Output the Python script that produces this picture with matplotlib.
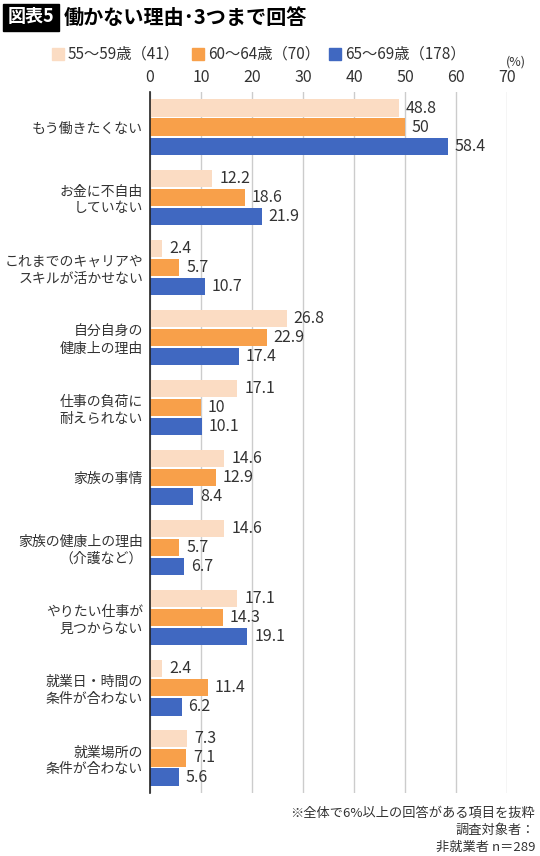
import numpy as np
import matplotlib.pyplot as plt
from matplotlib.patches import Rectangle

plt.rcParams['font.family'] = ['Noto Sans CJK JP', 'DejaVu Sans']

# Data
categories = [
    'もう働きたくない',
    'お金に不自由\nしていない',
    'これまでのキャリアや\nスキルが活かせない',
    '自分自身の\n健康上の理由',
    '仕事の負荷に\n耐えられない',
    '家族の事情',
    '家族の健康上の理由\n（介護など）',
    'やりたい仕事が\n見つからない',
    '就業日・時間の\n条件が合わない',
    '就業場所の\n条件が合わない',
]
age_55_59 = [48.8, 12.2, 2.4, 26.8, 17.1, 14.6, 14.6, 17.1, 2.4, 7.3]
age_60_64 = [50, 18.6, 5.7, 22.9, 10, 12.9, 5.7, 14.3, 11.4, 7.1]
age_65_69 = [58.4, 21.9, 10.7, 17.4, 10.1, 8.4, 6.7, 19.1, 6.2, 5.6]
series_labels = ['55〜59歳（41）', '60〜64歳（70）', '65〜69歳（178）']
colors = ['#fbdcc3', '#f8a04a', '#4068c1']

fig = plt.figure(figsize=(5.4, 8.56), dpi=100)
ax = fig.add_axes([0.2778, 0.0736, 0.6611, 0.8189])

y = np.arange(len(categories))
bar_h = 0.245
step = 0.272
text_color = '#333333'

for i, (vals, col) in enumerate(zip([age_55_59, age_60_64, age_65_69], colors)):
    pos = y + (i - 1) * step
    ax.barh(pos, vals, height=bar_h, color=col, zorder=3)
    for p, v in zip(pos, vals):
        lbl = f'{v:g}'
        ax.annotate(lbl, (v, p), xytext=(5, 0), textcoords='offset points',
                    ha='left', va='center', fontsize=11.5, color=text_color)

ax.set_xlim(0, 70)
ax.set_ylim(len(categories) - 0.5, -0.5)
ax.set_xticks(range(0, 71, 10))
ax.xaxis.tick_top()
ax.tick_params(axis='x', length=0, pad=4, labelsize=11.5, labelcolor=text_color)
ax.set_yticks(y)
ax.set_yticklabels(categories, fontsize=10, color=text_color, linespacing=1.25)
ax.tick_params(axis='y', length=0, pad=5)
ax.grid(axis='x', color='#cccccc', linewidth=1, zorder=0)
for s in ['top', 'right', 'bottom']:
    ax.spines[s].set_visible(False)
ax.spines['left'].set_color('#222222')
ax.spines['left'].set_linewidth(1.2)
ax.spines['left'].set_zorder(4)

# (%) unit
fig.text(516 / 540, 1 - 62 / 856, '(%)', ha='center', va='center', fontsize=9, color=text_color)

# Legend
leg_x = [52, 192, 329]
for lx, lab, col in zip(leg_x, series_labels, colors):
    fig.patches.append(Rectangle((lx / 540, 1 - 60 / 856), 12 / 540, 12 / 856,
                                 transform=fig.transFigure, color=col))
    fig.text((lx + 16) / 540, 1 - 54 / 856, lab, ha='left', va='center',
             fontsize=11, color=text_color)

# Title
fig.patches.append(Rectangle((3 / 540, 1 - 31 / 856), 56 / 540, 27 / 856,
                             transform=fig.transFigure, color='black'))
fig.text(31 / 540, 1 - 17 / 856, '図表5', ha='center', va='center', fontsize=13,
         fontweight='bold', color='white')
fig.text(64 / 540, 1 - 17 / 856, '働かない理由･3つまで回答', ha='left', va='center',
         fontsize=14.5, fontweight='bold', color='black')

# Notes
notes = ['※全体で6%以上の回答がある項目を抜粋', '調査対象者：', '非就業者 n＝289']
for k, t in enumerate(notes):
    fig.text(535 / 540, 1 - (813 + k * 17) / 856, t, ha='right', va='center',
             fontsize=9.5, color=text_color)

fig.savefig('out.png', dpi=100)
